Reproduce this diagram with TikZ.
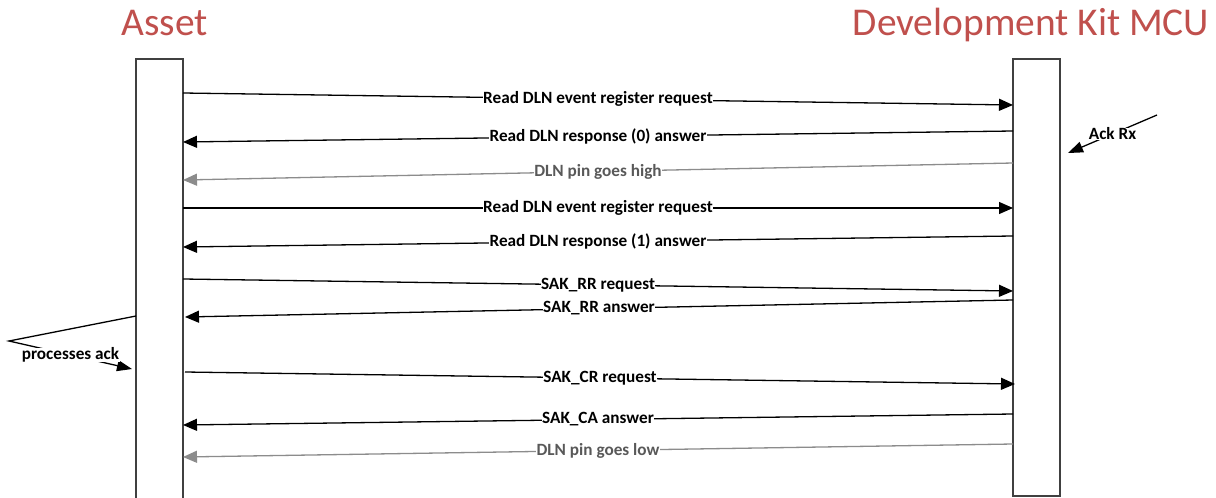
\documentclass[tikz,border=0pt]{standalone}
\usepackage{fontspec}
\setmainfont{Carlito}
\usetikzlibrary{arrows.meta}
\definecolor{titlered}{HTML}{C0504D}
\definecolor{msggray}{HTML}{8C8C8C}
\definecolor{msgtext}{HTML}{595959}
\definecolor{boxline}{HTML}{404040}
\begin{document}
\begin{tikzpicture}[x=1pt,y=-1pt,
  title/.style={text=titlered,font=\fontsize{39.4}{42}\selectfont,inner sep=0pt,anchor=base},
  lifebox/.style={draw=boxline,line width=1.5pt,fill=white,anchor=north west,minimum width=47pt,outer sep=0pt},
  msg/.style={line width=1.3pt,-{Triangle[length=14pt,width=12pt]}},
  graymsg/.style={msg,draw=msggray,-{Triangle[length=14pt,width=12pt,fill=msggray]}},
  lbl/.style={fill=white,inner xsep=0.5pt,inner ysep=0pt,font=\fontsize{17.2}{18}\selectfont\bfseries},
  graylbl/.style={lbl,text=msgtext},
  notetip/.style={line width=1.3pt,-{Triangle[length=15pt,width=11pt]}}
]
\useasboundingbox (0,0) rectangle (1216,498);
\clip (0,0) rectangle (1216,498);
\fill[white] (0,0) rectangle (1216,498);

\node[title] (assetT) at (164.5,35) {Asset};
\node[title] (devT) at (1031,35) {Development Kit MCU};

\node[lifebox,minimum height=460pt] (asset) at (136,59) {};
\node[lifebox,minimum height=437pt] (dev) at (1013,59) {};

% endpoints on the lifelines
\coordinate (a1) at (183,93);   \coordinate (d1) at (1013,105);
\coordinate (d2) at (1013,131); \coordinate (a2) at (183,142);
\coordinate (d3) at (1013,163); \coordinate (a3) at (183,180);
\coordinate (a4) at (183,208);  \coordinate (d4) at (1013,208);
\coordinate (d5) at (1013,236); \coordinate (a5) at (183,247);
\coordinate (a6) at (183,279);  \coordinate (d6) at (1013,291);
\coordinate (d7) at (1013,300); \coordinate (a7) at (185,317);
\coordinate (a8) at (185,372);  \coordinate (d8) at (1015,384);
\coordinate (d9) at (1013,414); \coordinate (a9) at (183,425);
\coordinate (d10) at (1013,444); \coordinate (a10) at (183,457);

\draw[msg] (a1) -- node[lbl] {Read DLN event register request} (d1);
\draw[msg] (d2) -- node[lbl] {Read DLN response (0) answer} (a2);
\draw[graymsg] (d3) -- node[graylbl] {DLN pin goes high} (a3);
\draw[msg] (a4) -- node[lbl] {Read DLN event register request} (d4);
\draw[msg] (d5) -- node[lbl] {Read DLN response (1) answer} (a5);
\draw[msg] (a6) -- node[lbl] {SAK\_RR request} (d6);
\draw[msg] (d7) -- node[lbl] {SAK\_RR answer} (a7);
\draw[msg] (a8) -- node[lbl] {SAK\_CR request} (d8);
\draw[msg] (d9) -- node[lbl] {SAK\_CA answer} (a9);
\draw[graymsg] (d10) -- node[graylbl] {DLN pin goes low} (a10);

% Ack Rx note
\coordinate (ackS) at (1157,115);
\coordinate (ackE) at (1068,153);
\draw[notetip] (ackS) -- node[lbl] (ackL) {Ack Rx} (ackE);

% processes ack note
\coordinate (pS) at (asset.west |- 0,316);
\coordinate (pK) at (9,341);
\coordinate (pE) at (132,369);
\draw[notetip] (pS) -- (pK) -- node[lbl] (pL) {processes ack} (pE);
\end{tikzpicture}
\end{document}
